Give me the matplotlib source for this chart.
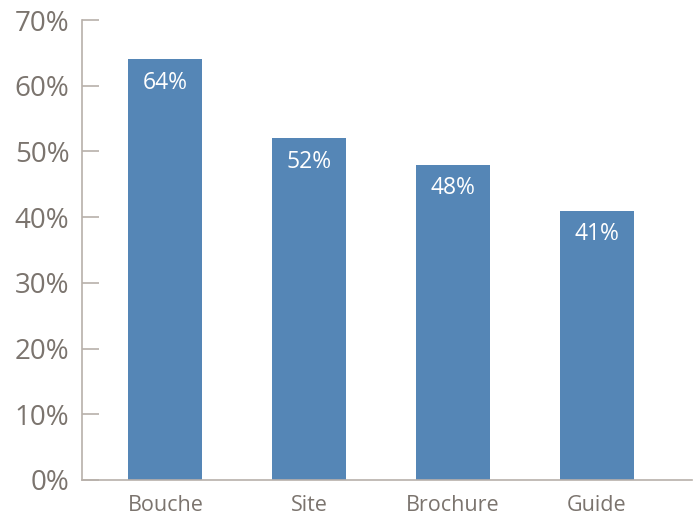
import matplotlib.pyplot as plt
import numpy as np

# ------------------------------- Datos -------------------------------
categorias = ["Bouche", "Site", "Brochure", "Guide"]
valores = [64, 52, 48, 41]
yticks = [0, 10, 20, 30, 40, 50, 60, 70]

azul = "#5586b6"
gris_txt = "#7b746e"
gris_eje = "#b8b0aa"

plt.rcParams["font.family"] = ["Open Sans", "DejaVu Sans"]

fig = plt.figure(figsize=(6.97, 5.16), dpi=100)
ax = fig.add_axes([0.1176, 0.0698, 0.8752, 0.8914])

x = np.arange(len(categorias))
barras = ax.bar(x, valores, width=0.515, color=azul)

# Etiquetas dentro de las barras
for xi, v in zip(x, valores):
    ax.annotate(f"{v}%", (xi, v), xytext=(0, -17), textcoords="offset points",
                ha="center", va="center", color="white", fontsize=16.5)

ax.set_xlim(-0.58, 3.66)
ax.set_ylim(0, 70)
ax.set_yticks(yticks)
ax.set_yticklabels([f"{t}%" for t in yticks], fontsize=20, color=gris_txt)
ax.set_xticks(x)
ax.set_xticklabels(categorias, fontsize=15.5, color=gris_txt)

for s in ["top", "right"]:
    ax.spines[s].set_visible(False)
for s in ["left", "bottom"]:
    ax.spines[s].set_color(gris_eje)
    ax.spines[s].set_linewidth(1.2)

ax.tick_params(axis="y", direction="in", length=12, width=1.2, color=gris_eje, pad=9)
ax.tick_params(axis="x", length=0, pad=11)

fig.savefig("out.png", dpi=100)
